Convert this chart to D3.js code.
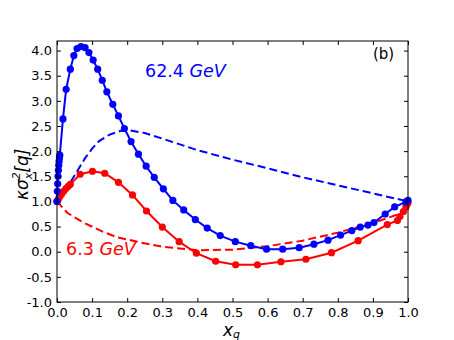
<!DOCTYPE html>
<html><head><meta charset="utf-8">
<script src="https://cdn.jsdelivr.net/npm/d3@7"></script>
<style>body{margin:0;background:#fff}svg{display:block}</style>
</head><body>
<script>
const blueX = [0,0.001,0.002,0.003,0.004,0.005,0.006,0.007,0.008,0.017,0.026,0.038,0.048,0.057,0.068,0.080,0.091,0.103,0.116,0.129,0.142,0.159,0.175,0.192,0.211,0.232,0.254,0.277,0.303,0.330,0.361,0.394,0.428,0.465,0.508,0.552,0.597,0.643,0.690,0.732,0.772,0.808,0.840,0.864,0.886,0.903,0.935,0.962,0.994,1.0];
const blueY = [1.0,1.2,1.35,1.5,1.62,1.72,1.8,1.87,1.92,2.64,3.23,3.63,3.90,4.04,4.08,4.06,3.96,3.81,3.63,3.41,3.18,2.93,2.70,2.45,2.19,1.94,1.70,1.48,1.25,1.02,0.83,0.64,0.47,0.32,0.20,0.12,0.05,0.05,0.08,0.15,0.23,0.33,0.42,0.49,0.53,0.58,0.75,0.89,0.99,1.02];
const redX = [0,0.004,0.008,0.013,0.019,0.026,0.032,0.038,0.066,0.101,0.136,0.175,0.215,0.255,0.300,0.348,0.397,0.452,0.509,0.571,0.638,0.709,0.782,0.858,0.941,0.970,0.977,0.987,0.994,0.998,1.0];
const redY = [1.0,1.05,1.10,1.15,1.20,1.26,1.30,1.34,1.54,1.60,1.56,1.38,1.13,0.81,0.49,0.20,-0.03,-0.19,-0.26,-0.26,-0.20,-0.15,-0.02,0.22,0.54,0.62,0.70,0.80,0.89,0.95,0.98];
const blueDashX = [0,0.01,0.02,0.04,0.06,0.08,0.10,0.12,0.15,0.18,0.20,0.25,0.30,0.40,0.50,0.60,0.70,0.80,0.90,1.0];
const blueDashY = [1.0,1.08,1.15,1.40,1.63,1.86,2.05,2.20,2.33,2.40,2.42,2.36,2.25,2.02,1.83,1.66,1.48,1.32,1.16,1.0];
const redDashX = [0,0.03,0.075,0.13,0.17,0.24,0.30,0.40,0.50,0.60,0.70,0.80,0.90,0.97,1.0];
const redDashY = [1.0,0.77,0.58,0.40,0.29,0.18,0.10,0.03,0.04,0.11,0.22,0.38,0.57,0.74,0.88];
const xTicks = [0,0.1,0.2,0.3,0.4,0.5,0.6,0.7,0.8,0.9,1.0];
const yTicks = [-1.0,-0.5,0,0.5,1.0,1.5,2.0,2.5,3.0,3.5,4.0];

const W = 454, H = 340;
const m = {l:57, r:46, t:41, b:38};
const svg = d3.select("body").append("svg").attr("width", W).attr("height", H);
const x = d3.scaleLinear().domain([0,1]).range([m.l, W-m.r]);
const y = d3.scaleLinear().domain([-1,4.19]).range([H-m.b, m.t]);
const font = "DejaVu Sans, sans-serif";

const line = d3.line().x(d=>x(d[0])).y(d=>y(d[1]));
const zip = (a,b)=>a.map((v,i)=>[v,b[i]]);

const plot = svg.append("g");
plot.append("path").datum(zip(blueDashX,blueDashY)).attr("d",line)
  .attr("fill","none").attr("stroke","#0000ff").attr("stroke-width",2).attr("stroke-dasharray","8,4");
plot.append("path").datum(zip(redDashX,redDashY)).attr("d",line)
  .attr("fill","none").attr("stroke","#ff0000").attr("stroke-width",2).attr("stroke-dasharray","8,4");

function series(xs, ys, col){
  const d = zip(xs,ys);
  plot.append("path").datum(d).attr("d",line).attr("fill","none").attr("stroke",col).attr("stroke-width",2);
  plot.selectAll(null).data(d).enter().append("circle")
    .attr("cx",p=>x(p[0])).attr("cy",p=>y(p[1])).attr("r",3.6).attr("fill",col);
}
series(redX, redY, "#ff0000");
series(blueX, blueY, "#0000ff");

// axes
const fmt = d3.format(".1f");
const axB = svg.append("g").attr("transform",`translate(0,${H-m.b})`)
  .call(d3.axisBottom(x).tickValues(xTicks).tickFormat(fmt).tickSizeInner(-4).tickSizeOuter(0).tickPadding(6));
const axT = svg.append("g").attr("transform",`translate(0,${m.t})`)
  .call(d3.axisTop(x).tickValues(xTicks).tickFormat("").tickSizeInner(-4).tickSizeOuter(0));
const axL = svg.append("g").attr("transform",`translate(${m.l},0)`)
  .call(d3.axisLeft(y).tickValues(yTicks).tickFormat(d=>fmt(d).replace("−","-")).tickSizeInner(-4).tickSizeOuter(0).tickPadding(5));
const axR = svg.append("g").attr("transform",`translate(${W-m.r},0)`)
  .call(d3.axisRight(y).tickValues(yTicks).tickFormat("").tickSizeInner(-4).tickSizeOuter(0));
[axB,axT,axL,axR].forEach(a=>{
  a.selectAll("text").attr("font-family",font).attr("font-size",13).attr("fill","#000");
  a.selectAll("line").attr("stroke","#000");
  a.select(".domain").remove();
});
svg.append("rect").attr("x",m.l).attr("y",m.t).attr("width",W-m.l-m.r).attr("height",H-m.t-m.b)
  .attr("fill","none").attr("stroke","#000").attr("stroke-width",1);

// annotations
const t1 = svg.append("text").attr("x",145).attr("y",77).attr("font-family",font).attr("font-size",17.5).attr("fill","#0000ff");
t1.append("tspan").text("62.4 ");
t1.append("tspan").attr("font-style","italic").text("GeV");
const t2 = svg.append("text").attr("x",66).attr("y",255).attr("font-family",font).attr("font-size",17.5).attr("fill","#ff0000");
t2.append("tspan").text("6.3 ");
t2.append("tspan").attr("font-style","italic").text("GeV");
svg.append("text").attr("x",373).attr("y",59).attr("font-family",font).attr("font-size",15).attr("fill","#000").text("(b)");

// x label
const xl = svg.append("text").attr("x",223).attr("y",336).attr("font-family",font).attr("font-size",17).attr("font-style","italic").attr("fill","#000");
xl.append("tspan").text("x");
xl.append("tspan").attr("font-size",11).attr("dy",2).text("q");

// y label
const yg = svg.append("g").attr("transform","translate(28,200) rotate(-90)");
const yl = yg.append("text").attr("x",0).attr("y",0).attr("font-family",font).attr("font-size",17).attr("font-style","italic").attr("fill","#000");
yl.append("tspan").text("κσ");
yl.append("tspan").attr("font-size",11).attr("dy",-8).text("2");
yl.append("tspan").attr("font-size",11).attr("dx",-7).attr("dy",12).text("x");
yl.append("tspan").attr("dy",-4).text("[q]");
</script>
</body></html>
